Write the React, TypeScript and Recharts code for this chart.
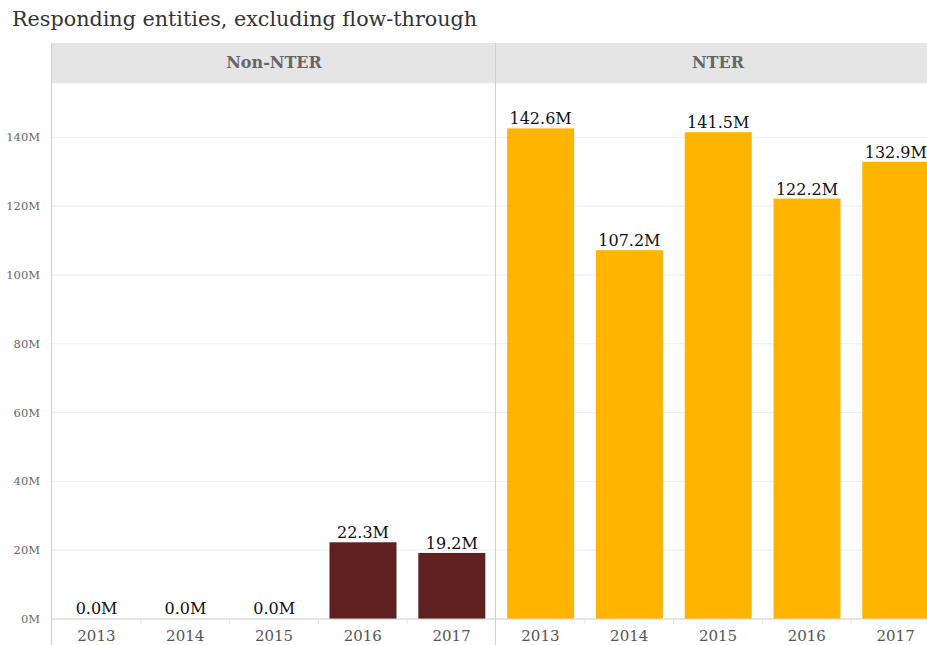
import { BarChart, Bar, XAxis, YAxis, CartesianGrid, LabelList } from "recharts";

const years = ["2013", "2014", "2015", "2016", "2017"];
const nonNterValues = [0, 0, 0, 22.3, 19.2];
const nterValues = [142.6, 107.2, 141.5, 122.2, 132.9];
const yTicks = [0, 20, 40, 60, 80, 100, 120, 140];

const nonNterData = years.map((year, i) => ({ year, total: nonNterValues[i] }));
const nterData = years.map((year, i) => ({ year, total: nterValues[i] }));

const FONT = "Georgia, 'DejaVu Serif', serif";
const PANEL_W = 444;
const AXIS_W = 52;
const HEIGHT = 645;
const TOP = 83;
const X_AXIS_H = 26;
const Y_MAX = 155.8;
const BAND = PANEL_W / years.length;

const YearTick = (props: any) => {
    const { x, y, payload, index } = props;
    return (
        <g>
            {index < years.length - 1 && (
                <line x1={x + BAND / 2} x2={x + BAND / 2} y1={y - 8} y2={y - 3} stroke="#e4e4e4" />
            )}
            <text x={x} y={y + 14} textAnchor="middle" fontSize={15} fill="#555" fontFamily={FONT}>
                {payload.value}
            </text>
        </g>
    );
};

// zero values keep a 1px slot so their label still renders, but no rect is drawn
const BarShape = (props: any) => {
    const { x, y, width, height, fill, value } = props;
    const v = Array.isArray(value) ? value[1] - value[0] : value;
    if (!v) return null;
    return <rect x={x} y={y} width={width} height={height} fill={fill} />;
};

const fmt = (v: any) => `${Number(v).toFixed(1)}M`;

function Panel({ data, color, showAxis }: { data: any[]; color: string; showAxis: boolean }) {
    return (
        <BarChart
            width={PANEL_W + (showAxis ? AXIS_W : 0)}
            height={HEIGHT}
            data={data}
            margin={{ top: TOP, right: 0, bottom: 0, left: 0 }}
            barCategoryGap="12.5%"
        >
            <CartesianGrid vertical={false} stroke="#efefef" />
            <XAxis
                dataKey="year"
                height={X_AXIS_H}
                tickLine={false}
                axisLine={{ stroke: "#d4d4d4" }}
                tick={<YearTick />}
                interval={0}
            />
            <YAxis
                hide={!showAxis}
                width={AXIS_W}
                domain={[0, Y_MAX]}
                ticks={yTicks}
                tickFormatter={(v) => `${v}M`}
                tickLine={false}
                axisLine={false}
                tick={{ fontSize: 11.5, fill: "#666", fontFamily: FONT }}
                tickMargin={6}
            />
            <Bar dataKey="total" fill={color} minPointSize={1} shape={<BarShape />} isAnimationActive={false}>
                <LabelList
                    dataKey="total"
                    position="top"
                    offset={4}
                    formatter={fmt}
                    style={{ fontSize: 16, fill: "#111", fontFamily: FONT }}
                />
            </Bar>
        </BarChart>
    );
}

export default function App() {
    const headerStyle: React.CSSProperties = {
        position: "absolute",
        top: 43,
        height: 40,
        lineHeight: "40px",
        background: "#e5e5e5",
        textAlign: "center",
        fontWeight: "bold",
        fontSize: 16,
        color: "#666",
        fontFamily: FONT,
    };
    return (
        <div
            style={{
                position: "absolute",
                left: 0,
                top: 0,
                width: 927,
                height: HEIGHT,
                overflow: "hidden",
                background: "#fff",
                fontFamily: FONT,
            }}
        >
            <div style={{ position: "absolute", left: 12, top: 7, fontSize: 20.7, color: "#333" }}>
                Responding entities, excluding flow-through
            </div>
            <div style={{ ...headerStyle, left: AXIS_W, width: PANEL_W }}>Non-NTER</div>
            <div style={{ ...headerStyle, left: AXIS_W + PANEL_W, width: PANEL_W }}>NTER</div>
            <div style={{ position: "absolute", left: 0, top: 0 }}>
                <Panel data={nonNterData} color="#5e2120" showAxis />
            </div>
            <div style={{ position: "absolute", left: AXIS_W + PANEL_W, top: 0 }}>
                <Panel data={nterData} color="#ffb500" showAxis={false} />
            </div>
            <div style={{ position: "absolute", left: AXIS_W - 1, top: 43, width: 1, height: HEIGHT - 43, background: "#cfcfcf" }} />
            <div style={{ position: "absolute", left: AXIS_W + PANEL_W - 1, top: 43, width: 1, height: HEIGHT - 43, background: "#cfcfcf" }} />
        </div>
    );
}
